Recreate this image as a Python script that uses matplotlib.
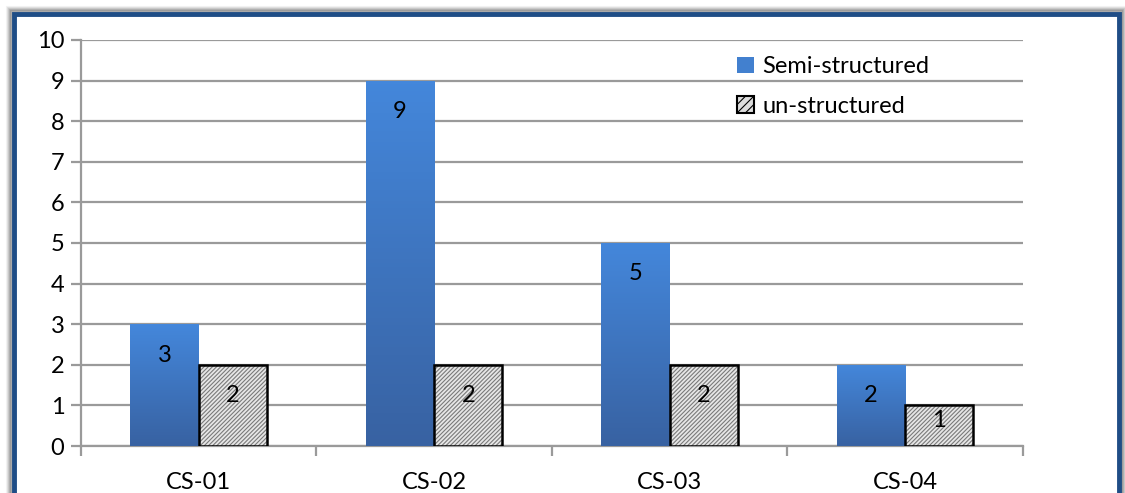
import numpy as np
import matplotlib
matplotlib.use("Agg")
import matplotlib.pyplot as plt
from matplotlib.patches import Rectangle, Patch
from matplotlib.colors import LinearSegmentedColormap

categories = ["CS-01", "CS-02", "CS-03", "CS-04"]
semi_structured = [3, 9, 5, 2]
un_structured = [2, 2, 2, 1]
series_names = ["Semi-structured", "un-structured"]
y_ticks = list(range(0, 11))

plt.rcParams['font.family'] = ['Lato', 'DejaVu Sans']
plt.rcParams['hatch.linewidth'] = 0.8

fs = 17

fig = plt.figure(figsize=(11.25, 4.93), dpi=100)

# outer frame with a soft shadow
for i, a in enumerate([0.05, 0.07, 0.09, 0.12, 0.16]):
    pad = (6 - i) / 1125
    padv = (6 - i) / 493
    fig.patches.append(Rectangle((0.012 - pad, -0.1), 0.9827 + 2 * pad, 1.0716 + padv,
                                 transform=fig.transFigure, facecolor='none',
                                 edgecolor=(0, 0, 0, a), linewidth=3, zorder=0))
fig.patches.append(Rectangle((0.012, -0.1), 0.9827, 1.0716, transform=fig.transFigure,
                             facecolor='white', edgecolor='#1f4d86', linewidth=3.5, zorder=1))

ax = fig.add_axes([0.072, 0.0953, 0.837, 0.8236])
ax.set_zorder(2)
ax.patch.set_visible(False)

x = np.arange(len(categories))
width = 0.29
grad = LinearSegmentedColormap.from_list("g", ["#3862a2", "#4487db"])

blue_bars = ax.bar(x - width / 2, semi_structured, width, color='none', linewidth=0, zorder=3)
for b in blue_bars:
    x0, y0 = b.get_x(), b.get_y()
    im = ax.imshow(np.linspace(0, 1, 100).reshape(-1, 1), cmap=grad, origin='lower',
                   extent=[x0, x0 + b.get_width(), y0, y0 + b.get_height()],
                   aspect='auto', zorder=3)
    im.set_clip_path(b)

ax.bar(x + width / 2, un_structured, width, color='#e6e6e6', edgecolor='#7a7a7a',
       hatch='////////', linewidth=0, zorder=3)
ax.bar(x + width / 2, un_structured, width, color='none', edgecolor='black',
       linewidth=1.8, zorder=4)

for xi, v in zip(x - width / 2, semi_structured):
    ax.text(xi, v - min(0.76, v * 0.38), str(v), ha='center', va='center', fontsize=fs, zorder=5)
for xi, v in zip(x + width / 2, un_structured):
    ax.text(xi, v - min(0.76, v * 0.38), str(v), ha='center', va='center', fontsize=fs, zorder=5)

ax.set_xlim(-0.5, len(categories) - 0.5)
ax.set_ylim(0, 10)
ax.set_yticks(y_ticks)
ax.yaxis.grid(True, color='#9a9a9a', linewidth=1.6, zorder=1)
ax.set_axisbelow(True)
ax.tick_params(axis='y', length=7, width=1.6, color='#9a9a9a', labelsize=fs, pad=5)
ax.set_xticks(x)
ax.set_xticklabels(categories, fontsize=fs)
ax.tick_params(axis='x', length=0, pad=19)
ax.set_xticks(np.arange(-0.5, len(categories)), minor=True)
ax.tick_params(axis='x', which='minor', length=7, width=1.6, color='#9a9a9a')
for s in ['top', 'right']:
    ax.spines[s].set_visible(False)
for s in ['left', 'bottom']:
    ax.spines[s].set_color('#9a9a9a')
    ax.spines[s].set_linewidth(1.6)

handles = [Patch(facecolor='#4280cf', edgecolor='none'),
           Patch(facecolor='#dddddd', edgecolor='black', hatch='////', linewidth=1.5)]
ax.legend(handles, series_names, loc='upper left', bbox_to_anchor=(0.697, 0.96),
          frameon=False, fontsize=fs, handlelength=0.7, handleheight=0.7,
          handletextpad=0.35, labelspacing=0.78, borderpad=0, borderaxespad=0)

fig.savefig("out.png", dpi=100)
